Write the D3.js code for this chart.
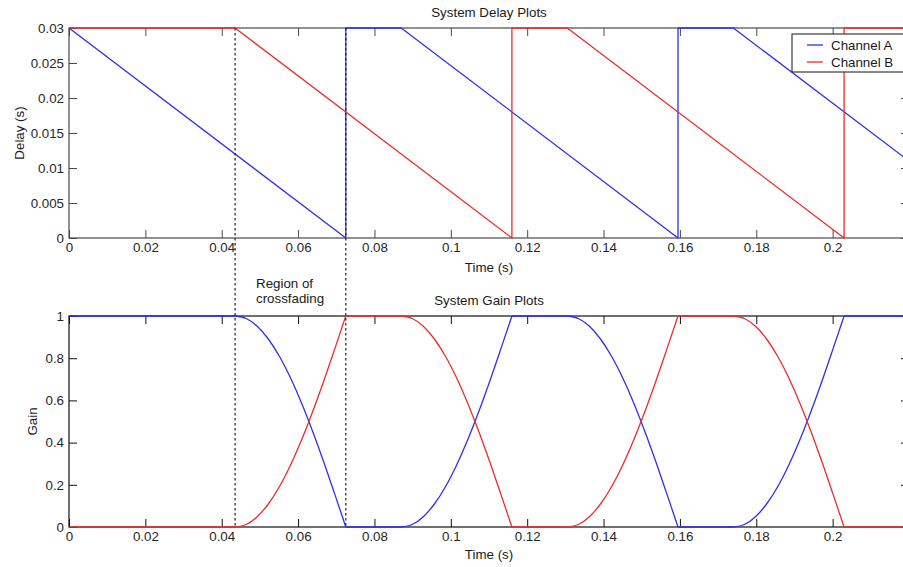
<!DOCTYPE html>
<html>
<head>
<meta charset="utf-8">
<script src="https://cdn.jsdelivr.net/npm/d3@7"></script>
<style>
  html, body { margin: 0; padding: 0; background: #fff; }
  svg { display: block; font-family: "Liberation Sans", Arial, sans-serif; }
</style>
</head>
<body>
<svg id="chart" width="903" height="567"></svg>
<script>
// ---- data ----
const timeTicks = [0, 0.02, 0.04, 0.06, 0.08, 0.1, 0.12, 0.14, 0.16, 0.18, 0.2];
const timeTickLabels = ["0", "0.02", "0.04", "0.06", "0.08", "0.1", "0.12", "0.14", "0.16", "0.18", "0.2"];
const delayTicks = [0, 0.005, 0.01, 0.015, 0.02, 0.025, 0.03];
const delayTickLabels = ["0", "0.005", "0.01", "0.015", "0.02", "0.025", "0.03"];
const gainTicks = [0, 0.2, 0.4, 0.6, 0.8, 1];
const gainTickLabels = ["0", "0.2", "0.4", "0.6", "0.8", "1"];

// delay of each channel: [time (s), delay (s)]
const delayA = [[0, 0.03], [0.0725, 0], [0.0725, 0.03], [0.087, 0.03], [0.1595, 0], [0.1595, 0.03],
                [0.174, 0.03], [0.22, 0.011]];
const delayB = [[0, 0.03], [0.0435, 0.03], [0.116, 0], [0.116, 0.03], [0.1305, 0.03], [0.203, 0],
                [0.203, 0.03], [0.22, 0.03]];

// gain of each channel: [time (s), gain]
const gainA = [
  [0, 1], [0.0435, 1],
  [0.0464, 0.988], [0.0493, 0.951], [0.0522, 0.891], [0.0551, 0.809], [0.0580, 0.707],
  [0.0609, 0.588], [0.0638, 0.454], [0.0667, 0.309], [0.0696, 0.156], [0.0725, 0],
  [0.087, 0],
  [0.0899, 0.012], [0.0928, 0.049], [0.0957, 0.109], [0.0986, 0.191], [0.1015, 0.293],
  [0.1044, 0.412], [0.1073, 0.546], [0.1102, 0.691], [0.1131, 0.844], [0.116, 1],
  [0.1305, 1],
  [0.1334, 0.988], [0.1363, 0.951], [0.1392, 0.891], [0.1421, 0.809], [0.1450, 0.707],
  [0.1479, 0.588], [0.1508, 0.454], [0.1537, 0.309], [0.1566, 0.156], [0.1595, 0],
  [0.174, 0],
  [0.1769, 0.012], [0.1798, 0.049], [0.1827, 0.109], [0.1856, 0.191], [0.1885, 0.293],
  [0.1914, 0.412], [0.1943, 0.546], [0.1972, 0.691], [0.2001, 0.844], [0.203, 1],
  [0.22, 1]
];
const gainB = [
  [0, 0], [0.0435, 0],
  [0.0464, 0.012], [0.0493, 0.049], [0.0522, 0.109], [0.0551, 0.191], [0.0580, 0.293],
  [0.0609, 0.412], [0.0638, 0.546], [0.0667, 0.691], [0.0696, 0.844], [0.0725, 1],
  [0.087, 1],
  [0.0899, 0.988], [0.0928, 0.951], [0.0957, 0.891], [0.0986, 0.809], [0.1015, 0.707],
  [0.1044, 0.588], [0.1073, 0.454], [0.1102, 0.309], [0.1131, 0.156], [0.116, 0],
  [0.1305, 0],
  [0.1334, 0.012], [0.1363, 0.049], [0.1392, 0.109], [0.1421, 0.191], [0.1450, 0.293],
  [0.1479, 0.412], [0.1508, 0.546], [0.1537, 0.691], [0.1566, 0.844], [0.1595, 1],
  [0.174, 1],
  [0.1769, 0.988], [0.1798, 0.951], [0.1827, 0.891], [0.1856, 0.809], [0.1885, 0.707],
  [0.1914, 0.588], [0.1943, 0.454], [0.1972, 0.309], [0.2001, 0.156], [0.203, 0],
  [0.22, 0]
];

// crossfade region boundaries (s)
const crossfadeBounds = [0.0435, 0.0725];
const legendNames = ["Channel A", "Channel B"];

// ---- layout ----
const FONT = 13.33;
const colorA = "#2f2fee";
const colorB = "#ee2b2b";
const left = 69, right = 909;
const topPanel = { y0: 28, y1: 238, frame: "#4a4a4a" };
const botPanel = { y0: 316, y1: 527, frame: "#111" };
const TICK = 8;

const svg = d3.select("#chart");
const x = d3.scaleLinear().domain([0, 0.22]).range([left, right]);
const yDelay = d3.scaleLinear().domain([0, 0.03]).range([topPanel.y1, topPanel.y0]);
const yGain = d3.scaleLinear().domain([0, 1]).range([botPanel.y1, botPanel.y0]);

function drawAxes(panel, y, yTicks, yLabels) {
  const g = svg.append("g");
  const xFmt = (d, i) => timeTickLabels[i];
  const yFmt = (d, i) => yLabels[i];

  const styleAxis = sel => {
    sel.select(".domain").remove();
    sel.selectAll("line").attr("stroke", panel.frame);
    sel.selectAll("text").attr("fill", "#262626").style("font-size", FONT + "px")
      .style("font-family", "'Liberation Sans', Arial, sans-serif");
  };

  g.append("g").attr("transform", `translate(0,${panel.y1})`)
    .call(d3.axisBottom(x).tickValues(timeTicks).tickFormat(xFmt).tickSizeInner(-TICK).tickSizeOuter(0).tickPadding(5))
    .call(styleAxis);
  g.append("g").attr("transform", `translate(0,${panel.y0})`)
    .call(d3.axisTop(x).tickValues(timeTicks).tickFormat("").tickSizeInner(-TICK).tickSizeOuter(0))
    .call(styleAxis);
  g.append("g").attr("transform", `translate(${left},0)`)
    .call(d3.axisLeft(y).tickValues(yTicks).tickFormat(yFmt).tickSizeInner(-TICK).tickSizeOuter(0).tickPadding(5))
    .call(styleAxis);
  g.append("g").attr("transform", `translate(${right},0)`)
    .call(d3.axisRight(y).tickValues(yTicks).tickFormat("").tickSizeInner(-TICK).tickSizeOuter(0))
    .call(styleAxis);

  g.append("rect")
    .attr("x", left).attr("y", panel.y0)
    .attr("width", right - left).attr("height", panel.y1 - panel.y0)
    .attr("fill", "none").attr("stroke", panel.frame).attr("stroke-width", 1.2);
}

function label(txt, xPos, yPos, rotate) {
  const t = svg.append("text")
    .attr("text-anchor", "middle")
    .attr("fill", "#1a1a1a")
    .style("font-size", FONT + "px")
    .text(txt);
  if (rotate) t.attr("transform", `translate(${xPos},${yPos}) rotate(-90)`);
  else t.attr("x", xPos).attr("y", yPos);
  return t;
}

// ---- panels ----
drawAxes(topPanel, yDelay, delayTicks, delayTickLabels);
drawAxes(botPanel, yGain, gainTicks, gainTickLabels);

const midX = (left + right) / 2;
label("System Delay Plots", midX, 17);
label("Time (s)", midX, 272);
label("Delay (s)", 24, (topPanel.y0 + topPanel.y1) / 2, true);
label("System Gain Plots", midX, 305);
label("Time (s)", midX, 559);
label("Gain", 37, (botPanel.y0 + botPanel.y1) / 2, true);

// ---- series ----
// Split a gain series into runs of constant gain and runs of changing gain,
// so each fade is smoothed on its own and meets the hold levels with a corner.
function splitRuns(pts) {
  const runs = [];
  let cur = [pts[0]];
  let curFlat = null;
  for (let i = 1; i < pts.length; i++) {
    const flat = pts[i][1] === pts[i - 1][1];
    if (curFlat !== null && flat !== curFlat) {
      runs.push(cur);
      cur = [pts[i - 1]];
    }
    cur.push(pts[i]);
    curFlat = flat;
  }
  runs.push(cur);
  return runs;
}

const lineDelay = d3.line().x(d => x(d[0])).y(d => yDelay(d[1]));
const lineGain = d3.line().x(d => x(d[0])).y(d => yGain(d[1])).curve(d3.curveMonotoneX);

const series = [
  { data: delayA, path: lineDelay(delayA), color: colorA },
  { data: delayB, path: lineDelay(delayB), color: colorB },
  { data: gainA, path: splitRuns(gainA).map(r => lineGain(r)).join(""), color: colorA },
  { data: gainB, path: splitRuns(gainB).map(r => lineGain(r)).join(""), color: colorB }
];
svg.append("g").selectAll("path").data(series).join("path")
  .attr("d", s => s.path)
  .attr("fill", "none")
  .attr("stroke", s => s.color)
  .attr("stroke-width", 1.3)
  .attr("stroke-linejoin", "round");

// ---- crossfade markers ----
svg.append("g").selectAll("line").data(crossfadeBounds).join("line")
  .attr("x1", d => x(d)).attr("x2", d => x(d))
  .attr("y1", topPanel.y0).attr("y2", botPanel.y1)
  .attr("stroke", "#222").attr("stroke-width", 1.2)
  .attr("stroke-dasharray", "2.5,2.5");

const region = svg.append("text")
  .attr("fill", "#1a1a1a").style("font-size", FONT + "px");
region.append("tspan").attr("x", 256).attr("y", 288).text("Region of");
region.append("tspan").attr("x", 256).attr("y", 303).text("crossfading");

// ---- legend ----
const leg = svg.append("g").attr("transform", "translate(792,34)");
leg.append("rect").attr("width", 120).attr("height", 38)
  .attr("fill", "#fff").attr("stroke", "#3a3a3a").attr("stroke-width", 1.2);
const items = leg.selectAll("g.item").data(legendNames).join("g")
  .attr("class", "item")
  .attr("transform", (d, i) => `translate(0,${11 + i * 17})`);
items.append("line").attr("x1", 15).attr("x2", 31)
  .attr("stroke", (d, i) => [colorA, colorB][i]).attr("stroke-width", 1.3);
items.append("text").attr("x", 39).attr("dy", "0.35em")
  .attr("fill", "#1a1a1a").style("font-size", FONT + "px")
  .text(d => d);
</script>
</body>
</html>
